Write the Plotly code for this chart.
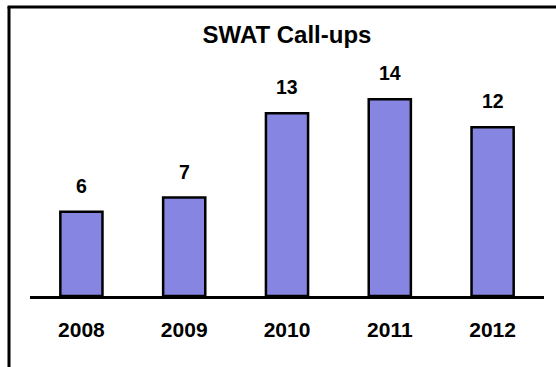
import plotly.graph_objects as go

years = ["2008", "2009", "2010", "2011", "2012"]
callups = [6, 7, 13, 14, 12]
title_text = "SWAT Call-ups"

W, H = 556, 367
L, R, T, B = 30, 12, 71, 71
pw = W - L - R
ph = H - T - B

def px_x(x):
    return (x - L) / pw

def px_y(y):
    return (H - B - y) / ph

fig = go.Figure(go.Bar(
    x=years, y=callups,
    marker=dict(color="#8686E2", line=dict(color="black", width=2.5)),
    width=0.41,
    textposition="none",
    hoverinfo="skip",
))

# value labels above bars (category index positions)
for i, v in enumerate(callups):
    fig.add_annotation(x=i, y=v, xref="x", yref="y", text=f"<b>{v}</b>",
                       showarrow=False, yanchor="bottom", yshift=13,
                       font=dict(size=19.5, color="black", family="Arial, Liberation Sans"))

# outer frame (top and left edges visible)
fig.add_shape(type="line", xref="paper", yref="paper",
              x0=px_x(9), x1=px_x(9), y0=px_y(7), y1=px_y(380),
              line=dict(color="black", width=3))
fig.add_shape(type="line", xref="paper", yref="paper",
              x0=px_x(7.5), x1=px_x(570), y0=px_y(7), y1=px_y(7),
              line=dict(color="black", width=3))

fig.update_layout(
    width=W, height=H,
    margin=dict(l=L, r=R, t=T, b=B, autoexpand=False),
    paper_bgcolor="white", plot_bgcolor="white",
    showlegend=False,
    title=dict(text=f"<b>{title_text}</b>", x=px_x(287), xanchor="center",
               xref="paper", y=1 - 35 / H, yref="container", yanchor="middle",
               font=dict(size=24, color="black", family="Arial, Liberation Sans")),
    xaxis=dict(type="category", range=[-0.5, 4.5], showline=True, linecolor="black",
               linewidth=2.5, showgrid=False, automargin=False,
               ticks="", ticklabelstandoff=13,
               tickfont=dict(size=21, color="black", family="Arial, Liberation Sans"),
               tickprefix="<b>", ticksuffix="</b>", fixedrange=True),
    yaxis=dict(range=[0, 16], visible=False, showgrid=False, zeroline=False,
               fixedrange=True, automargin=False),
)

fig.write_html("out.html", config={"displayModeBar": False},
               post_script="document.body.style.margin='0';")
